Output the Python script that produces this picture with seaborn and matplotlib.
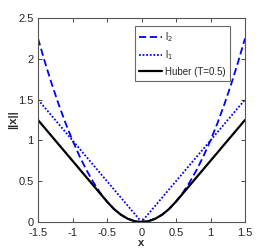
import matplotlib
matplotlib.use("Agg")
import matplotlib.pyplot as plt
import seaborn as sns
import pandas as pd

# --- Data ---
x_vals = [-1.5, -1.4, -1.3, -1.2, -1.1, -1.0, -0.9, -0.8, -0.7, -0.6, -0.5,
          -0.4, -0.3, -0.2, -0.1, 0.0, 0.1, 0.2, 0.3, 0.4, 0.5,
          0.6, 0.7, 0.8, 0.9, 1.0, 1.1, 1.2, 1.3, 1.4, 1.5]
l2_vals = [2.25, 1.96, 1.69, 1.44, 1.21, 1.0, 0.81, 0.64, 0.49, 0.36, 0.25,
           0.16, 0.09, 0.04, 0.01, 0.0, 0.01, 0.04, 0.09, 0.16, 0.25,
           0.36, 0.49, 0.64, 0.81, 1.0, 1.21, 1.44, 1.69, 1.96, 2.25]
l1_vals = [1.5, 1.4, 1.3, 1.2, 1.1, 1.0, 0.9, 0.8, 0.7, 0.6, 0.5,
           0.4, 0.3, 0.2, 0.1, 0.0, 0.1, 0.2, 0.3, 0.4, 0.5,
           0.6, 0.7, 0.8, 0.9, 1.0, 1.1, 1.2, 1.3, 1.4, 1.5]
huber_vals = [1.25, 1.15, 1.05, 0.95, 0.85, 0.75, 0.65, 0.55, 0.45, 0.35, 0.25,
              0.16, 0.09, 0.04, 0.01, 0.0, 0.01, 0.04, 0.09, 0.16, 0.25,
              0.35, 0.45, 0.55, 0.65, 0.75, 0.85, 0.95, 1.05, 1.15, 1.25]
x_ticks = [-1.5, -1, -0.5, 0, 0.5, 1, 1.5]
x_tick_labels = ["-1.5", "-1", "-0.5", "0", "0.5", "1", "1.5"]
y_ticks = [0, 0.5, 1, 1.5, 2, 2.5]
y_tick_labels = ["0", "0.5", "1", "1.5", "2", "2.5"]

df = pd.DataFrame({"x": x_vals, "l2": l2_vals, "l1": l1_vals, "huber": huber_vals})

sns.set_style("ticks")
plt.rcParams["font.family"] = ["Liberation Sans", "DejaVu Sans"]
plt.rcParams["xtick.direction"] = "in"
plt.rcParams["ytick.direction"] = "in"

fig = plt.figure(figsize=(2.75, 2.5), dpi=100)
ax = fig.add_axes([38 / 275, 28 / 250, 207 / 275, 204 / 250])

sns.lineplot(data=df, x="x", y="l2", ax=ax, color="#0000ff", lw=1.3,
             linestyle=(0, (4, 2)), label="l$_2$")
sns.lineplot(data=df, x="x", y="l1", ax=ax, color="#0000ff", lw=1.3,
             linestyle=(0, (1, 1)), label="l$_1$")
sns.lineplot(data=df, x="x", y="huber", ax=ax, color="black", lw=1.6,
             label="Huber (T=0.5)")

ax.set_xlim(-1.5, 1.5)
ax.set_ylim(0, 2.5)
ax.set_xticks(x_ticks)
ax.set_xticklabels(x_tick_labels)
ax.set_yticks(y_ticks)
ax.set_yticklabels(y_tick_labels)
ax.tick_params(labelsize=8, length=3, width=0.6, top=True, right=True,
               colors="#262626", pad=3)
ax.tick_params(axis="x", pad=4)
for s in ax.spines.values():
    s.set_color("#555555")
    s.set_linewidth(0.8)
ax.set_xlabel("x", fontsize=8, fontweight="bold", labelpad=0)
ax.set_ylabel("||x||", fontsize=8, fontweight="bold", labelpad=0)

leg = ax.legend(loc="upper right", fontsize=7, frameon=True, fancybox=False,
                handlelength=2.4, borderpad=0.45, labelspacing=0.45,
                handletextpad=0.25, borderaxespad=0.6,
                bbox_to_anchor=(0.955, 0.99))
leg.get_frame().set_edgecolor("#444444")
leg.get_frame().set_linewidth(0.8)

fig.savefig("out.png", dpi=100)
